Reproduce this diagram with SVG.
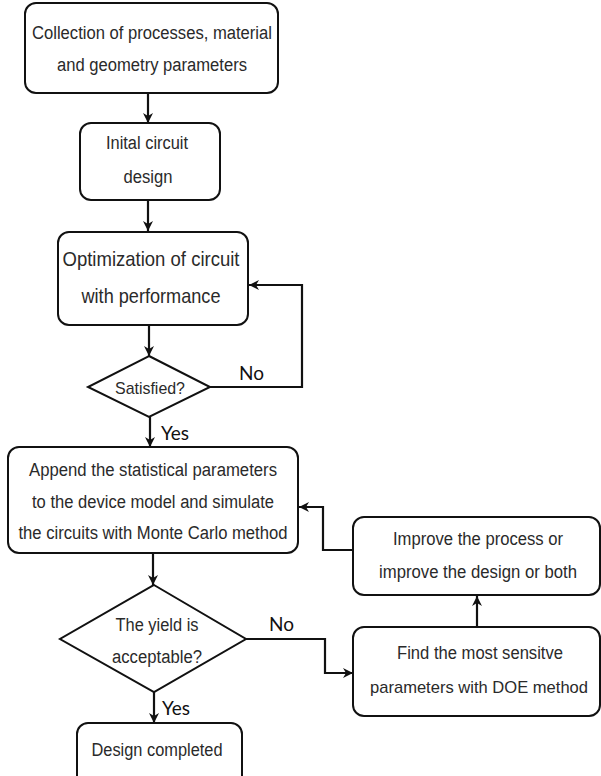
<svg xmlns="http://www.w3.org/2000/svg" width="601" height="776" viewBox="0 0 601 776">
<defs>
<style>
.box{fill:#fff;stroke:#111;stroke-width:2}
.t{font-family:"Liberation Sans",Arial,sans-serif;fill:#2a2a2a;text-anchor:middle;dominant-baseline:central}
.lbl{font-family:Lato,"Liberation Sans",sans-serif;fill:#111;font-size:19px;dominant-baseline:central}
.c{fill:none;stroke:#111;stroke-width:2.2;marker-end:url(#ah)}
</style>
<marker id="ah" markerUnits="userSpaceOnUse" markerWidth="12" markerHeight="12" viewBox="0 0 12 12" refX="11" refY="6" orient="auto">
<path d="M1,1 L11,6 L1,11 L4,6 Z" fill="#111"/>
</marker>
</defs>
<rect width="601" height="776" fill="#fff"/>
<g id="n1">
<rect class="box" x="25" y="3" width="253" height="90" rx="11"/>
<text class="t" x="152" y="33" font-size="18" textLength="240" lengthAdjust="spacingAndGlyphs">Collection of processes, material</text>
<text class="t" x="152" y="65" font-size="18" textLength="190" lengthAdjust="spacingAndGlyphs">and geometry parameters</text>
</g>
<g id="n2">
<rect class="box" x="80" y="123" width="140" height="77" rx="11"/>
<text class="t" x="147" y="143" font-size="18" textLength="82" lengthAdjust="spacingAndGlyphs">Inital circuit</text>
<text class="t" x="148" y="177" font-size="18" textLength="49" lengthAdjust="spacingAndGlyphs">design</text>
</g>
<g id="n3">
<rect class="box" x="58" y="232" width="190" height="93" rx="11"/>
<text class="t" x="151" y="258" font-size="21" textLength="177" lengthAdjust="spacingAndGlyphs">Optimization of circuit</text>
<text class="t" x="151" y="295" font-size="21" textLength="139" lengthAdjust="spacingAndGlyphs">with performance</text>
</g>
<g id="d1">
<polygon class="box" points="149,356 210,387 149,417 88,387"/>
<text class="t" x="150" y="388" font-size="17" textLength="70" lengthAdjust="spacingAndGlyphs">Satisfied?</text>
</g>
<g id="n4">
<rect class="box" x="8" y="447" width="290" height="106" rx="11"/>
<text class="t" x="153" y="470" font-size="18" textLength="248" lengthAdjust="spacingAndGlyphs">Append the statistical parameters</text>
<text class="t" x="153" y="502" font-size="18" textLength="242" lengthAdjust="spacingAndGlyphs">to the device model and simulate</text>
<text class="t" x="153" y="533" font-size="18" textLength="269" lengthAdjust="spacingAndGlyphs">the circuits with Monte Carlo method</text>
</g>
<g id="d2">
<polygon class="box" points="154,585 246,639 154,692 60,639"/>
<text class="t" x="157" y="625" font-size="18" textLength="83" lengthAdjust="spacingAndGlyphs">The yield is</text>
<text class="t" x="157" y="657" font-size="18" textLength="90" lengthAdjust="spacingAndGlyphs">acceptable?</text>
</g>
<g id="n5">
<rect class="box" x="77" y="723" width="165" height="70" rx="11"/>
<text class="t" x="157" y="750" font-size="18" textLength="131" lengthAdjust="spacingAndGlyphs">Design completed</text>
</g>
<g id="n6">
<rect class="box" x="353" y="517" width="247" height="78" rx="11"/>
<text class="t" x="478" y="539" font-size="18" textLength="170" lengthAdjust="spacingAndGlyphs">Improve the process or</text>
<text class="t" x="478" y="572" font-size="18" textLength="198" lengthAdjust="spacingAndGlyphs">improve the design or both</text>
</g>
<g id="n7">
<rect class="box" x="353" y="627" width="247" height="89" rx="11"/>
<text class="t" x="480" y="653" font-size="18" textLength="166" lengthAdjust="spacingAndGlyphs">Find the most sensitve</text>
<text class="t" x="479" y="687" font-size="17" textLength="218" lengthAdjust="spacingAndGlyphs">parameters with DOE method</text>
</g>
<g id="connectors">
<path class="c" d="M148,93 V123"/>
<path class="c" d="M148,200 V231"/>
<path class="c" d="M149,325 V356"/>
<path class="c" d="M210,387 H302 V285 H249"/>
<path class="c" d="M150,417 V447"/>
<path class="c" d="M153,553 V585"/>
<path class="c" d="M246,639 H325 V673 H353"/>
<path class="c" d="M477,627 V596"/>
<path class="c" d="M353,550 H323 V507 H299"/>
<path class="c" d="M154,692 V723"/>
<text class="lbl" x="239" y="372">No</text>
<text class="lbl" x="161" y="432">Yes</text>
<text class="lbl" x="269" y="623">No</text>
<text class="lbl" x="162" y="707">Yes</text>
</g>
</svg>
